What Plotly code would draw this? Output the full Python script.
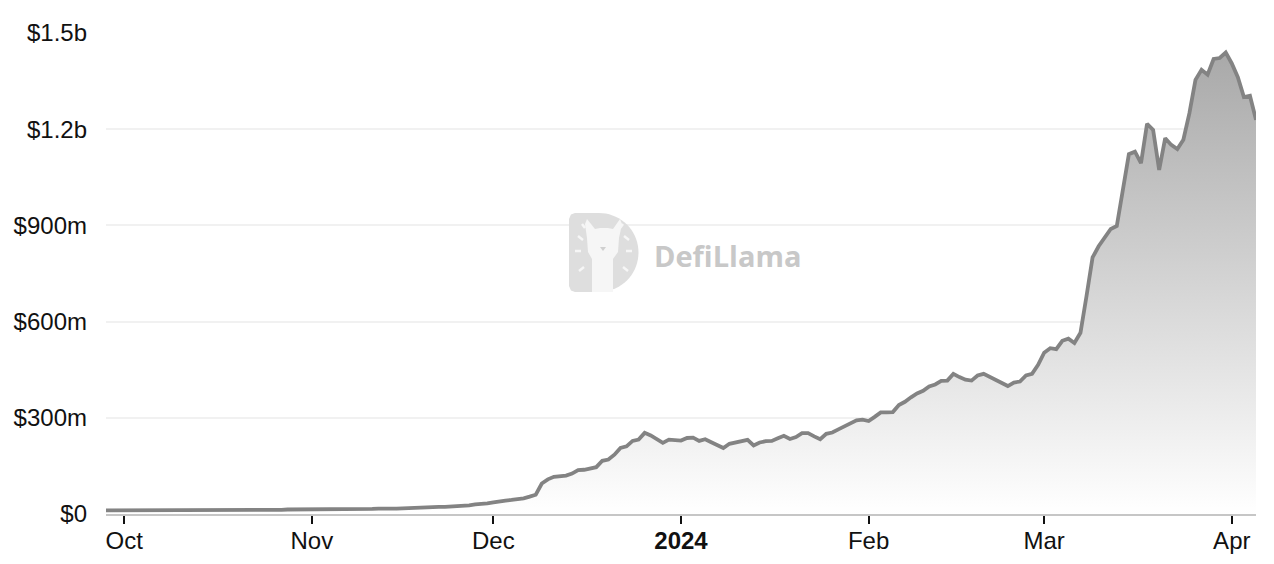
import math
import pandas as pd
import plotly.graph_objects as go

# ---- data (TVL in $ millions, daily) ----
start_date = "2023-09-28"
sep_vals = [11, 11, 11]
oct_vals = [11, 11, 11, 11, 11, 11, 11, 11, 11, 11, 11, 11, 11,
            12, 12, 12, 12, 12, 12, 12, 12,
            13, 13, 13, 13, 13, 13, 14, 14, 14, 14]
nov_vals = [14, 14, 14, 14, 15, 15, 15, 15, 16, 16, 16, 17, 18, 17, 17,
            18, 18, 19, 19, 20, 21, 22, 22, 23, 23, 24, 27, 30, 31, 33]
dec_vals = [36, 40, 42, 44, 46, 49, 54, 60, 95, 108, 116, 118, 120, 126, 137,
            138, 141, 146, 166, 170, 185, 206, 211, 228, 232, 253, 245, 234,
            222, 232, 231]
jan_vals = [229, 237, 238, 228, 233, 224, 215, 206, 219, 224, 227, 231, 214,
            223, 227, 228, 236, 244, 234, 240, 252, 252, 242, 233, 250, 254,
            264, 273, 281, 292, 294]
feb_vals = [290, 303, 317, 317, 318, 340, 350, 364, 376, 384, 398, 404, 415,
            416, 437, 427, 419, 416, 432, 437, 427, 416, 406, 399, 410, 413,
            432, 437, 465]
mar_vals = [503, 517, 514, 540, 547, 533, 565, 680, 800, 835, 860, 889, 898,
            1010, 1122, 1130, 1094, 1217, 1198, 1073, 1172, 1151, 1138, 1167,
            1250, 1354, 1385, 1370, 1419, 1422, 1439]
apr_vals = [1405, 1362, 1300, 1304, 1229]

tvl = sep_vals + oct_vals + nov_vals + dec_vals + jan_vals + feb_vals + mar_vals + apr_vals
dates = pd.date_range(start_date, periods=len(tvl), freq="D")

x_tick_vals = ["2023-10-01", "2023-11-01", "2023-12-01", "2024-01-01",
               "2024-02-01", "2024-03-01", "2024-04-01"]
x_tick_text = ["Oct", "Nov", "Dec", "<b>2024</b>", "Feb", "Mar", "Apr"]
y_tick_vals = [0, 300, 600, 900, 1200, 1500]
y_tick_text = ["$0", "$300m", "$600m", "$900m", "$1.2b", "$1.5b"]

# ---- layout geometry (pixels) ----
W, H = 1274, 564
ML, MR, MT, MB = 106, 18, 33, 50
PW, PH = W - ML - MR, H - MT - MB


def px(xp, yp):
    return (xp - ML) / PW, (H - MB - yp) / PH


def path(points, close=True):
    s = ""
    for i, (a, b) in enumerate(points):
        xx, yy = px(a, b)
        s += ("M" if i == 0 else "L") + f"{xx:.5f},{yy:.5f} "
    return s + ("Z" if close else "")


fig = go.Figure()
fig.add_trace(go.Scatter(
    x=dates, y=tvl, mode="lines",
    line=dict(color="#838383", width=3.8),
    fill="tozeroy",
    fillgradient=dict(type="vertical",
                      colorscale=[[0, "rgba(255,255,255,1)"], [1, "#a9a9a9"]],
                      start=0, stop=max(tvl)),
    hoverinfo="skip", showlegend=False,
))

# ---- watermark (DefiLlama logo) ----
cx, cy, r = 599, 252.5, 39.5
d_pts = [(575, 213), (cx, 213)]
for k in range(0, 37):
    ang = -math.pi / 2 + math.pi * k / 36
    d_pts.append((cx + r * math.cos(ang), cy + r * math.sin(ang)))
d_pts += [(575, 292), (571, 290.5), (569, 286), (569, 219), (571, 214.5)]
shapes = [dict(type="path", xref="paper", yref="paper", path=path(d_pts),
               fillcolor="#dedede", line=dict(width=0), layer="above")]
llama = [(592, 292), (592, 259), (588, 252), (587, 238), (585, 224), (587, 219),
         (595, 229), (600, 228), (608, 228), (613, 229), (620, 219), (622, 224),
         (619, 238), (618, 252), (613, 259), (613, 292)]
shapes.append(dict(type="path", xref="paper", yref="paper", path=path(llama),
                   fillcolor="#f6f6f6", line=dict(width=0), layer="above"))
nose = [(600, 247), (606, 247), (603, 251)]
shapes.append(dict(type="path", xref="paper", yref="paper", path=path(nose),
                   fillcolor="#d0d0d0", line=dict(width=0), layer="above"))
for (a, b, c, d) in [(575, 251, 581, 251), (578, 236, 583, 240), (579, 271, 584, 267),
                     (624, 236, 629, 240), (626, 251, 632, 251), (623, 267, 628, 271),
                     (582, 224, 585, 228), (620, 228, 623, 224)]:
    x0, y0 = px(a, b)
    x1, y1 = px(c, d)
    shapes.append(dict(type="line", xref="paper", yref="paper", x0=x0, y0=y0,
                       x1=x1, y1=y1, line=dict(color="#f6f6f6", width=2.5),
                       layer="above"))

tx, ty = px(727, 255)
fig.add_annotation(x=tx, y=ty, xref="paper", yref="paper", text="<b>DefiLlama</b>",
                   showarrow=False, xanchor="center", yanchor="middle",
                   font=dict(family="Open Sans", size=29, color="#c8c8c8"))

fig.update_layout(
    width=W, height=H,
    margin=dict(l=ML, r=MR, t=MT, b=MB, autoexpand=False),
    paper_bgcolor="white", plot_bgcolor="white",
    shapes=shapes,
    font=dict(family="Liberation Sans, Arial, sans-serif", color="#000000", size=24),
    xaxis=dict(
        type="date",
        range=[dates[0], dates[-1]],
        tickvals=x_tick_vals, ticktext=x_tick_text,
        showgrid=False, zeroline=False, automargin=False,
        showline=True, linecolor="#c6c6c6", linewidth=2,
        ticks="outside", ticklen=8, tickwidth=2, tickcolor="#111111",
        ticklabelstandoff=-4,
        tickfont=dict(size=24, color="#111111"),
    ),
    yaxis=dict(
        range=[0, 1500],
        tickvals=y_tick_vals, ticktext=y_tick_text,
        showgrid=True, gridcolor="#f1f1f1", gridwidth=1.5,
        zeroline=False, showline=False, ticks="", automargin=False,
        ticklabelstandoff=18,
        tickfont=dict(size=24, color="#111111"),
    ),
)

fig.write_html(
    "out.html",
    config={"displayModeBar": False},
    post_script="document.body.style.margin='0';document.body.style.overflow='hidden';",
)
